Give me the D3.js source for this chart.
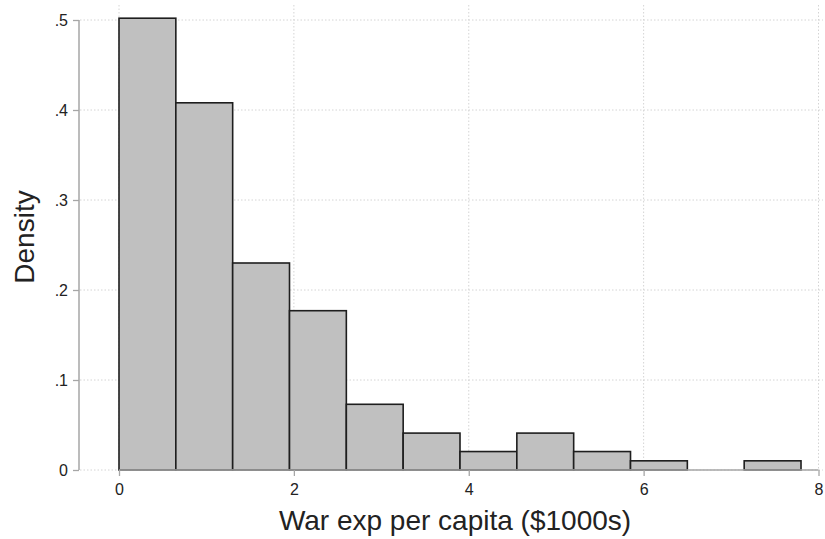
<!DOCTYPE html>
<html>
<head>
<meta charset="utf-8">
<script src="https://cdn.jsdelivr.net/npm/d3@7"></script>
<style>
  html, body { margin: 0; padding: 0; background: #fff; }
  svg { display: block; font-family: "Liberation Sans", Arial, Helvetica, sans-serif; }
</style>
</head>
<body>
<svg id="chart" width="825" height="539"></svg>
<script>
// Histogram bins (in $1000s) and their densities
const binStart = [0, 0.65, 1.3, 1.95, 2.6, 3.25, 3.9, 4.55, 5.2, 5.85, 6.5, 7.15];
const binWidth = 0.65;
const density = [0.502, 0.408, 0.230, 0.177, 0.073, 0.041, 0.0205, 0.041, 0.0205, 0.0102, 0, 0.0102];

const xTicks = [0, 2, 4, 6, 8];
const xTickLabels = ["0", "2", "4", "6", "8"];
const yTicks = [0, 0.1, 0.2, 0.3, 0.4, 0.5];
const yTickLabels = ["0", ".1", ".2", ".3", ".4", ".5"];

const xTitle = "War exp per capita ($1000s)";
const yTitle = "Density";

const svg = d3.select("#chart");

const x = d3.scaleLinear().domain([0, 8]).range([119, 818.5]);
const y = d3.scaleLinear().domain([0, 0.5]).range([470, 20]);

const gridColor = "#d4d4d4";
const axisColor = "#a6a6a6";
const textColor = "#222";

// Gridlines
svg.append("g").selectAll("line").data(yTicks).join("line")
  .attr("x1", 80).attr("x2", 823)
  .attr("y1", d => y(d)).attr("y2", d => y(d))
  .attr("stroke", gridColor).attr("stroke-width", 1)
  .attr("stroke-dasharray", "1.5,2");

svg.append("g").selectAll("line").data(xTicks).join("line")
  .attr("x1", d => x(d)).attr("x2", d => x(d))
  .attr("y1", 5).attr("y2", 470)
  .attr("stroke", gridColor).attr("stroke-width", 1)
  .attr("stroke-dasharray", "1.5,2");

// Bars
svg.append("g").selectAll("rect")
  .data(binStart.map((s, i) => ({ s, d: density[i] })).filter(b => b.d > 0))
  .join("rect")
  .attr("x", b => x(b.s))
  .attr("width", b => x(b.s + binWidth) - x(b.s))
  .attr("y", b => y(b.d))
  .attr("height", b => y(0) - y(b.d))
  .attr("fill", "#c0c0c0")
  .attr("stroke", "#1e1e1e")
  .attr("stroke-width", 1.6);

// Y axis
const yAxis = d3.axisLeft(y)
  .tickValues(yTicks)
  .tickFormat((d, i) => yTickLabels[i])
  .tickSize(6)
  .tickPadding(5);
const gy = svg.append("g").attr("transform", "translate(79,0)").call(yAxis);
gy.select(".domain").attr("stroke", axisColor).attr("stroke-width", 1.5).attr("d", `M0,${y(0.5)}V${y(0)}`);
gy.selectAll(".tick line").attr("stroke", axisColor).attr("stroke-width", 1.3);
gy.selectAll(".tick text").attr("fill", textColor).style("font-size", "16px")
  .style("font-family", "'Liberation Sans', Arial, sans-serif");

// X axis
const xAxis = d3.axisBottom(x)
  .tickValues(xTicks)
  .tickFormat((d, i) => xTickLabels[i])
  .tickSize(6)
  .tickPadding(8);
const gx = svg.append("g").attr("transform", "translate(0,470)").call(xAxis);
gx.select(".domain").attr("stroke", axisColor).attr("stroke-width", 1.5).attr("d", `M${x(0)},0H${x(8)}`);
gx.selectAll(".tick line").attr("stroke", axisColor).attr("stroke-width", 1.3);
gx.selectAll(".tick text").attr("fill", textColor).style("font-size", "16px")
  .style("font-family", "'Liberation Sans', Arial, sans-serif");

// Axis titles
svg.append("text")
  .attr("x", 455).attr("y", 530)
  .attr("text-anchor", "middle")
  .attr("fill", textColor)
  .style("font-size", "28px")
  .text(xTitle);

svg.append("text")
  .attr("transform", "translate(34,237) rotate(-90)")
  .attr("text-anchor", "middle")
  .attr("fill", textColor)
  .style("font-size", "28px")
  .text(yTitle);
</script>
</body>
</html>
